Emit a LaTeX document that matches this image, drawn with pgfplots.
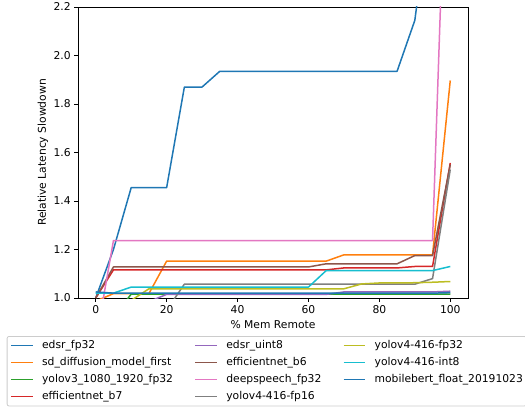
\documentclass[border=0pt]{standalone}
\usepackage{pgfplots}
\pgfplotsset{compat=1.18}
\usepackage{fontspec}
\setmainfont{DejaVu Sans}
\definecolor{c0}{HTML}{1F77B4}
\definecolor{c1}{HTML}{FF7F0E}
\definecolor{c2}{HTML}{2CA02C}
\definecolor{c3}{HTML}{D62728}
\definecolor{c4}{HTML}{9467BD}
\definecolor{c5}{HTML}{8C564B}
\definecolor{c6}{HTML}{E377C2}
\definecolor{c7}{HTML}{7F7F7F}
\definecolor{c8}{HTML}{BCBD22}
\definecolor{c9}{HTML}{17BECF}
\begin{document}
\begin{tikzpicture}
\useasboundingbox (-78bp,-109bp) rectangle (447bp,298bp);
\begin{axis}[
  scale only axis, width=390bp, height=291bp,
  xmin=-5, xmax=105, ymin=1.0, ymax=2.2,
  xtick={0,20,40,60,80,100},
  ytick={1.0,1.2,1.4,1.6,1.8,2.0,2.2},
  yticklabel style={/pgf/number format/.cd, fixed, fixed zerofill, precision=1},
  /pgf/number format/assume math mode=true,
  tick pos=left, tick align=outside, major tick length=3.8bp,
  every tick/.style={black, line width=0.8bp},
  axis line style={line width=0.8bp},
  font=\fontsize{10.8}{13}\selectfont,
  xlabel={\% Mem Remote}, ylabel={Relative Latency Slowdown},
  xlabel style={at={(axis description cs:0.5,-0.0928)}, anchor=center},
  ylabel style={at={(axis description cs:-0.0897,0.5)}, anchor=center},
  every axis plot/.append style={line width=1.5bp, line join=round, no markers},
  legend columns=3,
  legend image code/.code={\draw[#1, line width=1.5bp] (0bp,0bp) -- (21.6bp,0bp);},
  legend style={at={(axis description cs:-0.1828,-0.1306)}, anchor=north west,
    draw=black!20, rounded corners=2bp, line width=0.8bp,
    inner xsep=3.3bp, inner ysep=4bp, font=\fontsize{10.8}{13}\selectfont,
    cells={anchor=west},
    nodes={inner sep=0pt, text height=8bp, text depth=2.6bp},
    row sep=6.4bp,
    /tikz/every odd column/.append style={column sep=8.6bp},
    /tikz/every even column/.append style={column sep=21.6bp}},
]
% edsr_fp32
\addplot[c0, forget plot] coordinates {(0,1.0) (5,1.2) (10,1.455) (15,1.455) (20,1.455) (25,1.87) (30,1.87) (35,1.935) (40,1.935) (45,1.935) (50,1.935) (55,1.935) (60,1.935) (65,1.935) (70,1.935) (75,1.935) (80,1.935) (85,1.935) (90,2.145) (95,2.7) (100,3.0)};
% sd_diffusion_model_first
\addplot[c1, forget plot] coordinates {(0,0.987) (5,1.018) (10,1.018) (15,1.018) (20,1.152) (25,1.152) (30,1.152) (35,1.152) (40,1.152) (45,1.152) (50,1.152) (55,1.152) (60,1.152) (65,1.152) (70,1.178) (75,1.178) (80,1.178) (85,1.178) (90,1.178) (95,1.178) (100,1.897)};
% yolov3_1080_1920_fp32
\addplot[c2, forget plot] coordinates {(0,0.92) (5,0.92) (10,1.016) (15,1.016) (20,1.016) (25,1.016) (30,1.016) (35,1.016) (40,1.016) (45,1.016) (50,1.016) (55,1.016) (60,1.016) (65,1.016) (70,1.016) (75,1.016) (80,1.016) (85,1.016) (90,1.016) (95,1.016) (100,1.016)};
% efficientnet_b7
\addplot[c3, forget plot] coordinates {(0,1.0) (5,1.116) (10,1.116) (15,1.116) (20,1.116) (25,1.116) (30,1.116) (35,1.116) (40,1.116) (45,1.116) (50,1.116) (55,1.116) (60,1.116) (65,1.116) (70,1.124) (75,1.124) (80,1.124) (85,1.124) (90,1.13) (95,1.13) (100,1.557)};
% edsr_uint8
\addplot[c4, forget plot] coordinates {(0,0.99) (5,0.99) (10,0.99) (15,0.985) (20,1.015) (25,1.015) (30,1.015) (35,1.015) (40,1.015) (45,1.015) (50,1.015) (55,1.015) (60,1.015) (65,1.015) (70,1.025) (75,1.025) (80,1.025) (85,1.025) (90,1.025) (95,1.025) (100,1.028)};
% efficientnet_b6
\addplot[c5, forget plot] coordinates {(0,1.0) (5,1.128) (10,1.128) (15,1.128) (20,1.128) (25,1.128) (30,1.128) (35,1.128) (40,1.128) (45,1.128) (50,1.128) (55,1.128) (60,1.128) (65,1.141) (70,1.141) (75,1.141) (80,1.141) (85,1.141) (90,1.175) (95,1.175) (100,1.55)};
% deepspeech_fp32
\addplot[c6, forget plot] coordinates {(0,0.82) (5,1.237) (10,1.237) (15,1.237) (20,1.237) (25,1.237) (30,1.237) (35,1.237) (40,1.237) (45,1.237) (50,1.237) (55,1.237) (60,1.237) (65,1.237) (70,1.237) (75,1.237) (80,1.237) (85,1.237) (90,1.237) (95,1.237) (100,3.4)};
% yolov4-416-fp16
\addplot[c7, forget plot] coordinates {(0,0.95) (5,0.95) (10,0.95) (15,0.95) (20,0.95) (25,1.057) (30,1.057) (35,1.057) (40,1.057) (45,1.057) (50,1.057) (55,1.057) (60,1.057) (65,1.057) (70,1.057) (75,1.057) (80,1.057) (85,1.057) (90,1.057) (95,1.08) (100,1.53)};
% yolov4-416-fp32
\addplot[c8, forget plot] coordinates {(0,0.99) (5,0.99) (10,0.99) (15,1.038) (20,1.038) (25,1.038) (30,1.038) (35,1.038) (40,1.038) (45,1.038) (50,1.038) (55,1.038) (60,1.038) (65,1.038) (70,1.038) (75,1.058) (80,1.062) (85,1.062) (90,1.063) (95,1.065) (100,1.068)};
% yolov4-416-int8
\addplot[c9, forget plot] coordinates {(0,1.02) (5,1.02) (10,1.045) (15,1.045) (20,1.045) (25,1.045) (30,1.045) (35,1.045) (40,1.045) (45,1.045) (50,1.045) (55,1.045) (60,1.045) (65,1.113) (70,1.113) (75,1.113) (80,1.113) (85,1.113) (90,1.113) (95,1.113) (100,1.13)};
% mobilebert_float_20191023
\addplot[c0, forget plot] coordinates {(0,1.025) (5,1.02) (10,1.02) (15,1.02) (20,1.02) (25,1.02) (30,1.02) (35,1.02) (40,1.02) (45,1.02) (50,1.02) (55,1.02) (60,1.02) (65,1.02) (70,1.02) (75,1.02) (80,1.02) (85,1.02) (90,1.02) (95,1.02) (100,1.022)};
% legend (row-wise order of matplotlib's column-wise layout)
\addlegendimage{c0}\addlegendentry{edsr\_fp32}
\addlegendimage{c4}\addlegendentry{edsr\_uint8}
\addlegendimage{c8}\addlegendentry{yolov4-416-fp32}
\addlegendimage{c1}\addlegendentry{sd\_diffusion\_model\_first}
\addlegendimage{c5}\addlegendentry{efficientnet\_b6}
\addlegendimage{c9}\addlegendentry{yolov4-416-int8}
\addlegendimage{c2}\addlegendentry{yolov3\_1080\_1920\_fp32}
\addlegendimage{c6}\addlegendentry{deepspeech\_fp32}
\addlegendimage{c0}\addlegendentry{mobilebert\_float\_20191023}
\addlegendimage{c3}\addlegendentry{efficientnet\_b7}
\addlegendimage{c7}\addlegendentry{yolov4-416-fp16}
\end{axis}
\end{tikzpicture}
\end{document}
